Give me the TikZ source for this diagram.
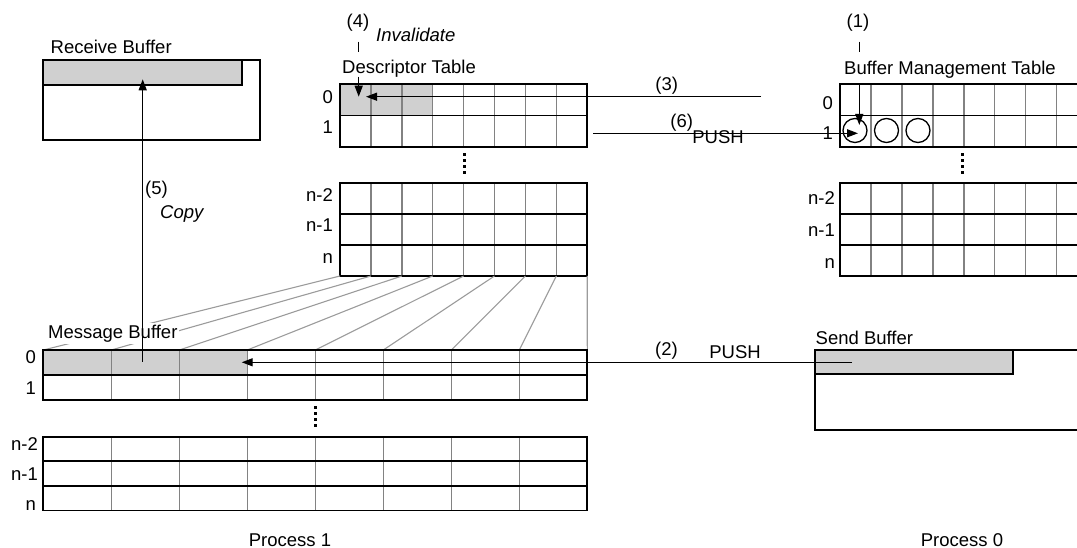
\documentclass[tikz,border=0pt]{standalone}
\usepackage{fontspec}
\setmainfont{Liberation Sans}
\usetikzlibrary{arrows.meta}
\definecolor{cellgray}{RGB}{208,208,208}
\definecolor{gridgray}{RGB}{130,130,130}
\definecolor{fangray}{RGB}{155,155,155}
\newcommand\mygrid[6]{% x0, y0, colw, ncols, rowh, nrows
  \pgfmathsetmacro\gxa{#1}\pgfmathsetmacro\gcw{#3}%
  \pgfmathsetmacro\gya{#2}\pgfmathsetmacro\grh{#5}%
  \pgfmathsetmacro\gxb{#1+#3*#4}\pgfmathsetmacro\gyb{#2+#5*#6}%
  \foreach \k in {1,...,#4}{\draw[colline] ({\gxa+\k*\gcw},\gya) -- ({\gxa+\k*\gcw},\gyb);}%
  \foreach \k in {1,...,#6}{\draw[rowline] (\gxa,{\gya+\k*\grh}) -- (\gxb,{\gya+\k*\grh});}%
  \draw[border] (\gxa,\gya) rectangle (\gxb,\gyb);%
}
\begin{document}
\begin{tikzpicture}[x=1pt,y=-1pt,font=\fontsize{18.5}{21}\selectfont,
  lbl/.style={inner sep=0pt,anchor=base west},
  rlbl/.style={inner sep=0pt,anchor=base east},
  clbl/.style={inner sep=0pt,anchor=base},
  arr/.style={line width=1.3pt,-{Triangle[length=11pt,width=8pt]}},
  plain/.style={line width=1.3pt},
  colline/.style={gridgray,line width=1.4pt},
  rowline/.style={black,line width=1.8pt},
  border/.style={black,line width=1.7pt},
  fan/.style={fangray,line width=1.1pt},
  vdots/.style={line width=3pt,dash pattern=on 3pt off 3pt}]
\useasboundingbox (0,0) rectangle (1077,548);
\clip (0,0) rectangle (1077,548);

% ---------- Receive buffer ----------
\draw[border] (43.3,60) rectangle (260,140);
\draw[border,fill=cellgray] (43.3,60) rectangle (241.7,85);
\node[lbl] (rbl) at (50.5,54) {Receive Buffer};

% ---------- Descriptor table ----------
\fill[cellgray] (340,84.3) rectangle (432.7,115.5);
\mygrid{340}{84.3}{30.9}{8}{31.2}{2}
\mygrid{340}{183.3}{30.9}{8}{30.9}{3}
\node[lbl] (dtl) at (342,74) {Descriptor Table};
\node[rlbl] at (333,103.3) {0};
\node[rlbl] at (333,133.3) {1};
\node[rlbl] at (333,201.7) {n-2};
\node[rlbl] at (333,231.7) {n-1};
\node[rlbl] at (333,263.3) {n};
\draw[vdots] (464,153.3) -- (464,174);

% ---------- Buffer management table ----------
\mygrid{840}{84.3}{30.95}{8}{31.2}{2}
\mygrid{840}{183.3}{30.95}{8}{30.9}{3}
\node[lbl] (bmt) at (844,75) {Buffer Management Table};
\node[rlbl] at (833,110) {0};
\node[rlbl] (bm1) at (833,140) {1};
\node[rlbl] at (835,205) {n-2};
\node[rlbl] at (835,237) {n-1};
\node[rlbl] at (835,268.3) {n};
\draw[vdots] (962.7,153.3) -- (962.7,174);
\node[draw,circle,line width=1.3pt,minimum size=24pt,inner sep=0pt] (c1) at (855,130.5) {};
\node[draw,circle,line width=1.3pt,minimum size=24pt,inner sep=0pt] (c2) at (886.5,130.5) {};
\node[draw,circle,line width=1.3pt,minimum size=24pt,inner sep=0pt] (c3) at (918,130.5) {};

% ---------- Fan lines ----------
\foreach \i in {0,...,8}{\draw[fan] ({340+\i*30.9},276) -- ({43.3+\i*68},350);}

% ---------- Message buffer ----------
\fill[cellgray] (43.3,350) rectangle (247.3,374.85);
\mygrid{43.3}{350}{68}{8}{24.85}{2}
\mygrid{43.3}{436.7}{68}{8}{24.6}{3}
\node[lbl,fill=white,inner xsep=2pt,inner ysep=2pt] (mbl) at (46,338.3) {Message Buffer};
\node[rlbl] at (36,363.3) {0};
\node[rlbl] at (36,394) {1};
\node[rlbl] at (38,450) {n-2};
\node[rlbl] at (38,480) {n-1};
\node[rlbl] at (36,510.5) {n};
\draw[vdots] (315.7,406) -- (315.7,427.3);

% ---------- Send buffer ----------
\draw[border] (815,350) rectangle (1100,430);
\draw[border,fill=cellgray] (815,350) rectangle (1013.3,374.3);
\node[lbl] (sbl) at (815.5,344) {Send Buffer};

% ---------- Connectors ----------
\coordinate (t4a) at (358.7,41.7); \coordinate (t4b) at (358.7,51.7);
\coordinate (a4s) at (358.7,76.7); \coordinate (a4e) at (358.7,96.7);
\draw[plain] (t4a) -- (t4b);
\draw[arr] (a4s) -- (a4e);
\node[clbl] (n4) at (358,28) {(4)};
\node[lbl] (inv) at (376,41.7) {\itshape Invalidate};

\coordinate (t1a) at (859.3,41.7); \coordinate (t1b) at (859.3,51.7);
\coordinate (a1s) at (859.3,84.3); \coordinate (a1e) at (859.3,125);
\draw[plain] (t1a) -- (t1b);
\draw[arr] (a1s) -- (a1e);
\node[clbl] (n1) at (858,28) {(1)};

\coordinate (a3s) at (761,96.7); \coordinate (a3e) at (366,96.7);
\draw[arr] (a3s) -- (a3e);
\node[clbl] (n3) at (666.7,91) {(3)};

\coordinate (a6s) at (593,133.3); \coordinate (a6e) at (858,133.3);
\draw[arr] (a6s) -- (a6e);
\node[clbl] (n6) at (681.7,127.5) {(6)};
\node[clbl] (p6) at (718,144) {PUSH};

\coordinate (a2s) at (852,362.3); \coordinate (a2e) at (241.7,362.3);
\draw[arr] (a2s) -- (a2e);
\node[clbl] (n2) at (666.5,355) {(2)};
\node[clbl] (p2) at (735,358) {PUSH};

\coordinate (a5s) at (142.7,361.7); \coordinate (a5e) at (142.7,79.3);
\draw[arr] (a5s) -- (a5e);
\node[lbl] (n5) at (145,194.5) {(5)};
\node[lbl] (cpy) at (160,219) {\itshape Copy};

% ---------- Process labels ----------
\node[clbl] (pr1) at (290,546) {Process 1};
\node[clbl] (pr0) at (962,546) {Process 0};
\end{tikzpicture}
\end{document}
